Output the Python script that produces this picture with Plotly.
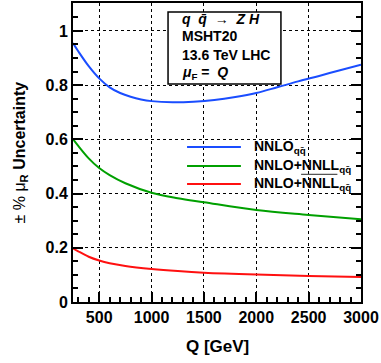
import plotly.graph_objects as go

# Data
q_nnlo = [250, 300, 400, 500, 600, 700, 800, 900, 1000, 1200, 1400, 1600, 1800, 2000, 2200, 2400, 2600, 2800, 3000]
u_nnlo = [0.955, 0.925, 0.870, 0.825, 0.792, 0.771, 0.757, 0.747, 0.741, 0.737, 0.739, 0.745, 0.756, 0.771, 0.792, 0.814, 0.834, 0.855, 0.875]

q_res = [250, 300, 400, 500, 600, 750, 1000, 1250, 1500, 2000, 2500, 3000]
u_nnll = [0.601, 0.576, 0.530, 0.494, 0.468, 0.438, 0.403, 0.383, 0.368, 0.339, 0.321, 0.305]
u_nnllbar = [0.198, 0.187, 0.167, 0.153, 0.143, 0.133, 0.122, 0.114, 0.108, 0.101, 0.096, 0.092]

series_names = ["NNLO", "NNLO+NNLL", "NNLO+NNLL"]
series_colors = ["#1a4dff", "#00a000", "#ff1010"]

FONT = "Liberation Sans, Arial, sans-serif"

fig = go.Figure()
for x, y, c in [(q_nnlo, u_nnlo, series_colors[0]),
                (q_res, u_nnll, series_colors[1]),
                (q_res, u_nnllbar, series_colors[2])]:
    fig.add_trace(go.Scatter(x=x, y=y, mode="lines",
                             line=dict(color=c, width=2, shape="spline", smoothing=1.0),
                             showlegend=False, hoverinfo="skip"))

axis_common = dict(showline=True, linecolor="black", linewidth=2, automargin=False,
                   ticks="inside", ticklen=10, tickwidth=1.5, tickcolor="black",
                   showgrid=True, gridcolor="black", griddash="dot", gridwidth=1,
                   zeroline=False,
                   tickfont=dict(family=FONT, size=16, color="black", weight="bold"))

fig.update_xaxes(range=[250, 3000], tick0=0, dtick=500, mirror=True,
                 minor=dict(dtick=100, ticks="inside", ticklen=5, tickcolor="black", tickwidth=1.5, showgrid=False),
                 **axis_common)
fig.update_yaxes(range=[0, 1.103], tick0=0, dtick=0.2, mirror="ticks",
                 minor=dict(dtick=0.05, ticks="inside", ticklen=5, tickcolor="black", tickwidth=1.5, showgrid=False),
                 **axis_common)

# Axis titles
fig.add_annotation(text="Q [GeV]", xref="paper", yref="paper", x=0.5, y=-0.150,
                   xanchor="center", yanchor="middle", showarrow=False,
                   font=dict(family=FONT, size=17, color="black", weight="bold"))
fig.add_annotation(text="± % μ<sub><b>R</b></sub> <b>Uncertainty</b>", xref="paper", yref="paper",
                   x=-0.184, y=0.5, xanchor="center", yanchor="middle", textangle=-90, showarrow=False,
                   font=dict(family=FONT, size=16, color="black"))

# Info box
fig.add_shape(type="rect", xref="paper", yref="paper", x0=0.330, x1=0.722, y0=0.729, y1=0.970,
              line=dict(color="black", width=1.5), fillcolor="white", layer="above")
info_lines = [
    ("<i>q</i>  <i>q̄</i>  →  <i>Z H</i>", 0.945),
    ("MSHT20", 0.888),
    ("13.6 TeV LHC", 0.826),
    ("<i>μ</i><sub>F</sub> =  <i>Q</i>", 0.766),
]
for txt, yy in info_lines:
    fig.add_annotation(text=txt, xref="paper", yref="paper", x=0.372, y=yy,
                       xanchor="left", yanchor="middle", showarrow=False,
                       font=dict(family=FONT, size=14, color="black", weight="bold"))

# Legend (manual)
leg_y = [0.518, 0.455, 0.395]
for name, col, yy in zip(series_names, series_colors, leg_y):
    fig.add_shape(type="line", xref="paper", yref="paper", x0=0.396, x1=0.583, y0=yy, y1=yy,
                  line=dict(color=col, width=2))
    fig.add_annotation(text=name + "<sub>qq̄</sub>", xref="paper", yref="paper", x=0.622, y=yy,
                       xanchor="left", yanchor="middle", showarrow=False,
                       font=dict(family=FONT, size=14, color="black", weight="bold"))
# overline over NNLL of the third entry
fig.add_shape(type="line", xref="paper", yref="paper", x0=0.792, x1=0.918, y0=0.427, y1=0.427,
              line=dict(color="#555555", width=1.2))

fig.update_layout(width=381, height=363, margin=dict(l=73, r=20, t=3, b=61),
                  paper_bgcolor="white", plot_bgcolor="white",
                  font=dict(family=FONT, color="black"))

fig.write_html("out.html", config={"displayModeBar": False},
               post_script="document.body.style.margin='0';document.body.style.overflow='hidden';")
